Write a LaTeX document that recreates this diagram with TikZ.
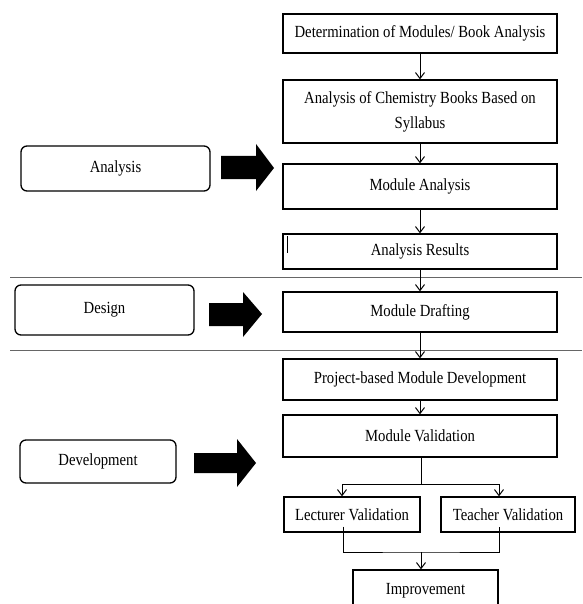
\documentclass[tikz,border=0pt]{standalone}
\usepackage{fontspec}
\setmainfont{Liberation Serif}[FakeStretch=0.865]
\usetikzlibrary{arrows.meta}

\begin{document}
\begin{tikzpicture}[x=1pt,y=-1pt,
    font=\fontsize{17}{25}\selectfont,
    box/.style={draw,line width=1.3pt,rectangle,align=center,inner sep=0pt},
    phase/.style={draw,line width=1.3pt,rounded corners=6pt,inner sep=0pt},
    conn/.style={line width=1pt},
    flow/.style={conn,-{Straight Barb[length=6pt,width=9pt]}},
    sep/.style={black!60,line width=1.5pt}]
    \useasboundingbox (0,0) rectangle (582,604);

    % phases on the left
    \begin{scope}[every node/.style={phase}]
        \node[minimum width=189,minimum height=45] (ana) at (115.5,168.5) {Analysis};
        \node[minimum width=179,minimum height=50] (des) at (104.5,310) {Design};
        \node[minimum width=156,minimum height=43] (dev) at (98,461.5) {Development};
    \end{scope}

    % big arrows
    \fill (221,156) -- (256,156) -- (256,144) -- (274,168) -- (256,191) -- (256,179) -- (221,179) -- cycle;
    \fill (209,303) -- (243,303) -- (243,292) -- (262,314) -- (243,337) -- (243,326) -- (209,326) -- cycle;
    \fill (194,453) -- (237,453) -- (237,439) -- (256,463) -- (237,487) -- (237,473) -- (194,473) -- cycle;

    % steps on the right
    \begin{scope}[every node/.style={box}]
        \node[minimum width=274,minimum height=39] (det) at (420,33.5) {Determination of Modules/ Book Analysis};
        \node[minimum width=274,minimum height=63] (chem) at (420,111.5) {Analysis of Chemistry Books Based on\\Syllabus};
        \node[minimum width=274,minimum height=45] (mana) at (420,186.5) {Module Analysis};
        \node[minimum width=274,minimum height=35] (ares) at (420,251.5) {Analysis Results};
        \node[minimum width=274,minimum height=40] (draft) at (420,312) {Module Drafting};
        \node[minimum width=274,minimum height=41] (proj) at (420,379.5) {Project-based Module Development};
        \node[minimum width=274,minimum height=42] (valid) at (420,436) {Module Validation};
        \node[minimum width=136,minimum height=35] (lect) at (352,514.5) {Lecturer Validation};
        \node[minimum width=134,minimum height=35] (teach) at (508,514.5) {Teacher Validation};
        \node[minimum width=145,minimum height=42] (impr) at (425.5,591) {Improvement};
    \end{scope}
    \draw[conn] ([xshift=5,yshift=-3]ares.north west) -- ++(0,17);

    % separators
    \draw[sep] (10,277.5) -- (582,277.5);
    \draw[sep] (10,350.7) -- (582,350.7);

    % flow
    \draw[flow] (det) -- (chem);
    \draw[flow] (chem) -- (mana);
    \draw[flow] (mana) -- (ares);
    \draw[flow] (ares) -- (draft);
    \draw[flow] (draft) -- (proj);
    \draw[flow] (proj) -- (valid);

    \coordinate (split) at (421,484);
    \coordinate (join) at (421,552);
    \draw[conn] (valid.south -| split) -- (split);
    \draw[flow] (split) -| ([xshift=-10]lect.north);
    \draw[flow] (split) -| ([xshift=-9]teach.north);
    \draw[conn] ([xshift=-9,yshift=6]lect.south) |- (join) -| ([xshift=-9,yshift=6]teach.south);
    \draw[flow] (join) -- (join |- impr.north);

\end{tikzpicture}
\end{document}
